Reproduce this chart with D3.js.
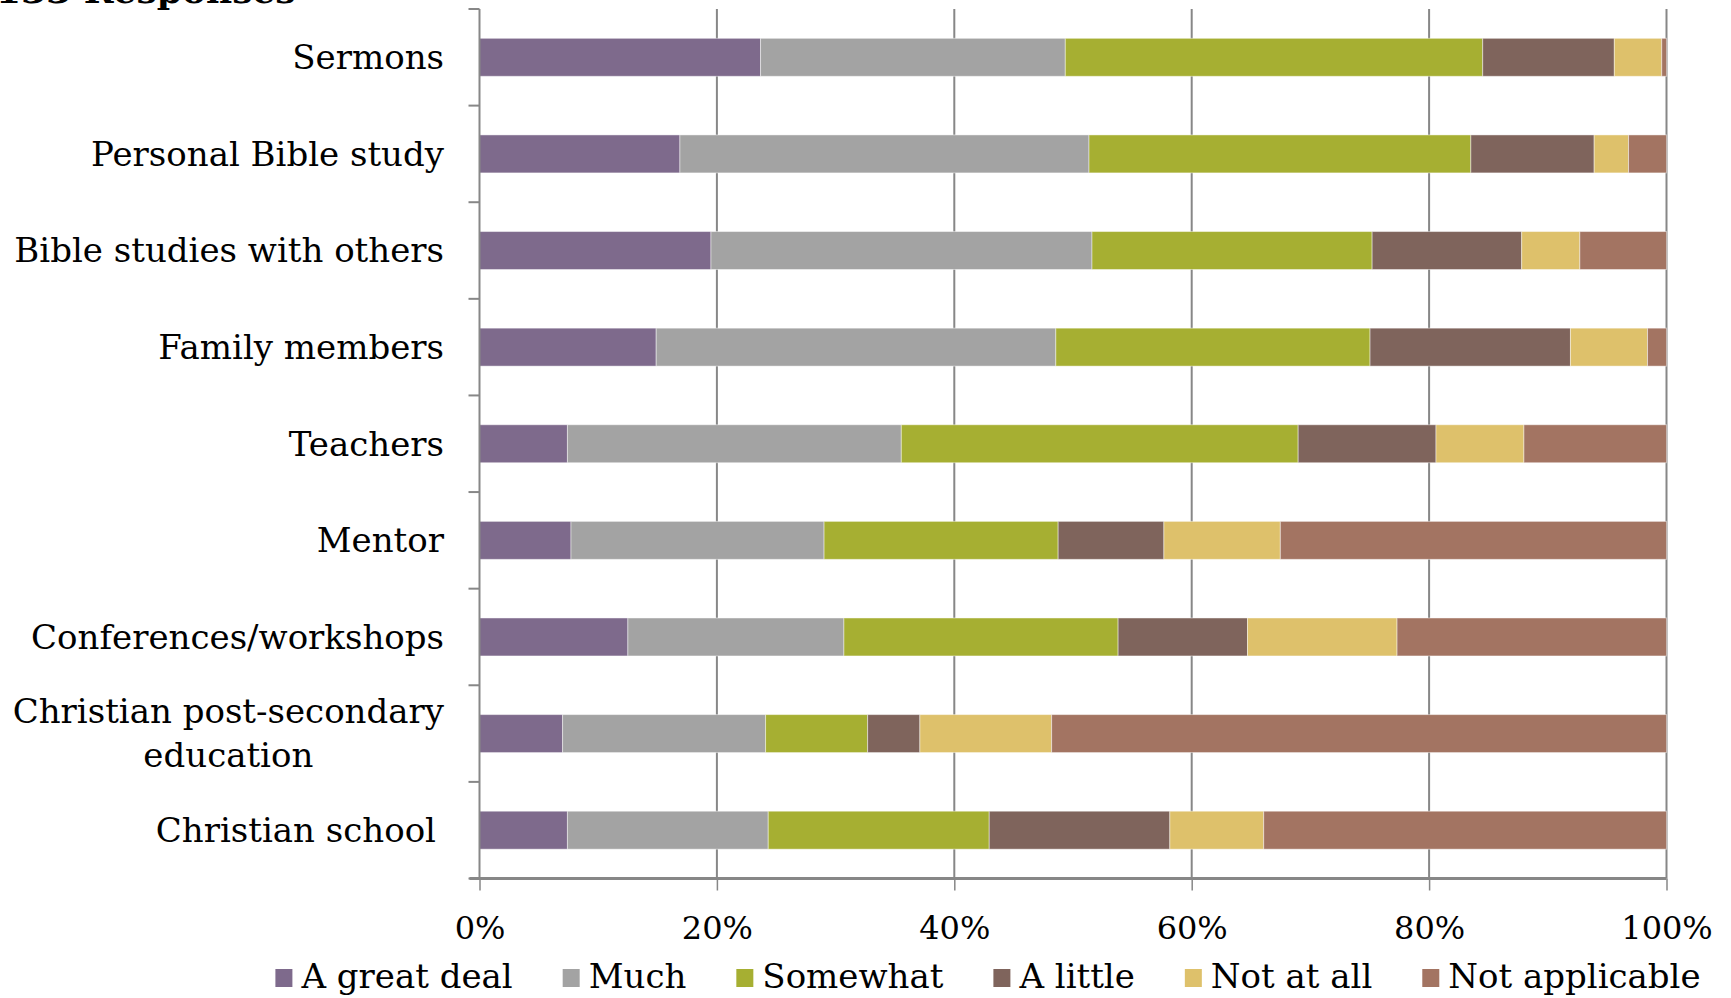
<!DOCTYPE html>
<html>
<head>
<meta charset="utf-8">
<script src="https://cdn.jsdelivr.net/npm/d3@7"></script>
<style>
  html, body { margin: 0; padding: 0; background: #fff; }
  svg { display: block; }
  text { font-family: "DejaVu Serif", "Liberation Serif", serif; fill: #000; }
</style>
</head>
<body>
<svg id="chart" width="1731" height="998"></svg>
<script>
// ---- data (percent of respondents) ----
const categories = [
  "Sermons",
  "Personal Bible study",
  "Bible studies with others",
  "Family members",
  "Teachers",
  "Mentor",
  "Conferences/workshops",
  "Christian post-secondary education",
  "Christian school"
];
const seriesNames = ["A great deal", "Much", "Somewhat", "A little", "Not at all", "Not applicable"];
const aGreatDeal    = [23.7, 16.9, 19.5, 14.9,  7.4,  7.7, 12.5,  7.0,  7.4];
const much          = [25.7, 34.5, 32.1, 33.7, 28.1, 21.3, 18.2, 17.1, 16.9];
const somewhat      = [35.2, 32.2, 23.6, 26.5, 33.4, 19.7, 23.1,  8.6, 18.6];
const aLittle       = [11.1, 10.4, 12.6, 16.9, 11.6,  8.9, 10.9,  4.4, 15.2];
const notAtAll      = [ 4.0,  2.9,  4.9,  6.5,  7.4,  9.8, 12.6, 11.1,  7.9];
const notApplicable = [ 0.4,  3.2,  7.3,  1.6, 12.0, 32.5, 22.7, 51.8, 33.9];
const tickValues = [0, 20, 40, 60, 80, 100];
const titleText = "133 Responses";

const colors = ["#7E6A8C", "#A3A3A3", "#A6AF32", "#7F645C", "#DEC16B", "#A37462"];
const seriesValues = [aGreatDeal, much, somewhat, aLittle, notAtAll, notApplicable];

// build table, normalised to 100% per category
const rows = categories.map((c, i) => {
  const row = { category: c };
  const total = d3.sum(seriesValues, s => s[i]);
  seriesNames.forEach((n, j) => { row[n] = seriesValues[j][i] / total * 100; });
  return row;
});
const stacked = d3.stack().keys(seriesNames)(rows);

const svg = d3.select("#chart");
const x0 = 479.5, x1 = 1666.5, yTop = 9, yBot = 878.5;
const labelFont = 34, tickFont = 32, legendFont = 34;

const x = d3.scaleLinear().domain([0, 100]).range([x0, x1]);
const y = d3.scaleBand().domain(categories).range([yTop, yBot]).paddingInner(0.607).paddingOuter(0.3035);
const color = d3.scaleOrdinal().domain(seriesNames).range(colors);

// title (cut off at top in the original)
svg.append("text")
  .attr("x", -4).attr("y", 3)
  .attr("font-size", 36).attr("font-weight", "bold")
  .text(titleText);

// vertical gridlines
svg.append("g").selectAll("line")
  .data(tickValues.filter(v => v > 0))
  .join("line")
  .attr("x1", d => x(d)).attr("x2", d => x(d))
  .attr("y1", yTop).attr("y2", yBot)
  .attr("stroke", "#878787").attr("stroke-width", 2);

// bars
svg.append("g").selectAll("g")
  .data(stacked)
  .join("g")
  .attr("fill", d => color(d.key))
  .selectAll("rect")
  .data(d => d)
  .join("rect")
  .attr("x", d => x(d[0]))
  .attr("width", d => x(d[1]) - x(d[0]))
  .attr("y", d => y(d.data.category))
  .attr("height", y.bandwidth())
  .attr("stroke", "rgba(255,255,255,0.45)")
  .attr("stroke-width", 1);

// left axis line + ticks at band boundaries
svg.append("line")
  .attr("x1", x0).attr("x2", x0).attr("y1", yTop).attr("y2", yBot)
  .attr("stroke", "#878787").attr("stroke-width", 2);
const boundaries = d3.range(categories.length + 1).map(i => yTop + i * (yBot - yTop) / categories.length);
svg.append("g").selectAll("line")
  .data(boundaries)
  .join("line")
  .attr("x1", x0 - 11).attr("x2", x0)
  .attr("y1", d => d).attr("y2", d => d)
  .attr("stroke", "#878787").attr("stroke-width", 2);

// bottom axis
const xAxis = d3.axisBottom(x).tickValues(tickValues).tickFormat(d => d + "%").tickSize(12).tickPadding(0);
const gx = svg.append("g").attr("transform", `translate(0,${yBot})`).call(xAxis);
gx.select(".domain").attr("stroke", "#878787").attr("stroke-width", 3).attr("d", `M${x0 - 10},0H${x1}`);
gx.selectAll(".tick line").attr("stroke", "#878787").attr("stroke-width", 1.5);
gx.selectAll(".tick text")
  .attr("font-family", "DejaVu Serif")
  .attr("font-size", tickFont)
  .attr("fill", "#000")
  .attr("y", 60).attr("dy", 0);

// category labels
const labelRight = 444;
const labelG = svg.append("g");
categories.forEach(c => {
  const cy = y(c) + y.bandwidth() / 2;
  if (c === "Christian post-secondary education") {
    const lines = ["Christian post-secondary", "education"];
    const t = labelG.append("text").attr("font-size", labelFont).attr("text-anchor", "middle");
    const tmp = labelG.append("text").attr("font-size", labelFont).text(lines[0]);
    const w = tmp.node().getComputedTextLength();
    tmp.remove();
    const cx = labelRight - w / 2;
    lines.forEach((ln, i) => {
      t.append("tspan").attr("x", cx).attr("y", cy + (i - 0.5) * 44).attr("dy", "0.35em").text(ln);
    });
  } else {
    labelG.append("text")
      .attr("font-size", labelFont)
      .attr("text-anchor", "end")
      .attr("x", c === "Christian school" ? labelRight - 8 : labelRight)
      .attr("y", cy).attr("dy", "0.35em")
      .text(c);
  }
});

// legend
const legendG = svg.append("g");
const items = seriesNames.map(n => {
  const g = legendG.append("g");
  g.append("rect").attr("width", 17).attr("height", 18).attr("y", -19).attr("fill", color(n));
  const t = g.append("text").attr("x", 26).attr("y", 0).attr("font-size", legendFont).text(n);
  return { g, w: 26 + t.node().getComputedTextLength() };
});
const gap = 50;
const totalW = d3.sum(items, d => d.w) + gap * (items.length - 1);
let lx = 988 - totalW / 2;
items.forEach(it => {
  it.g.attr("transform", `translate(${lx},${988})`);
  lx += it.w + gap;
});
</script>
</body>
</html>
